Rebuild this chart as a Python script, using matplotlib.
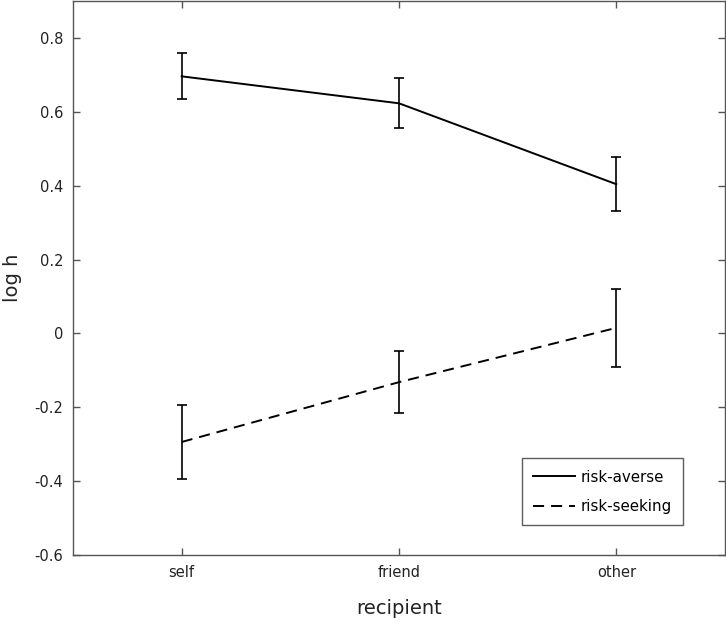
import matplotlib
matplotlib.use("Agg")
import matplotlib.pyplot as plt
from matplotlib.lines import Line2D

plt.rcParams['font.family'] = ['DejaVu Sans']
plt.rcParams['lines.scale_dashes'] = False

categories = ["self", "friend", "other"]
x_pos = [1, 2, 3]
averse_mean = [0.696, 0.623, 0.404]
averse_err = [0.062, 0.068, 0.073]
seeking_mean = [-0.294, -0.132, 0.015]
seeking_err = [0.099, 0.083, 0.105]

fig = plt.figure(figsize=(7.26, 6.24), dpi=100)
ax = fig.add_axes([73/726, 1 - 555/624, (725-73)/726, (555-1)/624])

lw = 1.4
ax.errorbar(x_pos, averse_mean, yerr=averse_err, color='black', lw=lw,
            capsize=3.3, capthick=1.2, elinewidth=1.2, label='risk-averse')
ax.errorbar(x_pos, seeking_mean, yerr=seeking_err, color='black', lw=lw,
            capsize=3.3, capthick=1.2, elinewidth=1.2, label='risk-seeking',
            linestyle=(0, (8, 5)))

ax.set_xlim(0.5, 3.5)
ax.set_ylim(-0.6, 0.9)
ax.set_xticks(x_pos)
ax.set_xticklabels(categories)
yt = [-0.6, -0.4, -0.2, 0, 0.2, 0.4, 0.6, 0.8]
ax.set_yticks(yt)
ax.set_yticklabels(['-0.6', '-0.4', '-0.2', '0', '0.2', '0.4', '0.6', '0.8'])

edge = '#555555'
for s in ax.spines.values():
    s.set_color(edge)
    s.set_linewidth(1.0)
ax.tick_params(direction='in', top=True, right=True, length=5, width=1,
               color=edge, labelsize=10.5, labelcolor='#222222', pad=7)

ax.set_xlabel('recipient', fontsize=14, labelpad=14, color='#222222')
ax.set_ylabel('log h', fontsize=14, labelpad=9, color='#222222')

h1 = Line2D([], [], color='black', lw=lw)
h2 = Line2D([], [], color='black', lw=lw, linestyle=(0, (8, 5)))
leg = ax.legend([h1, h2], ['risk-averse', 'risk-seeking'], loc='lower right',
                bbox_to_anchor=(683/726, 1 - 525/624), bbox_transform=fig.transFigure,
                fontsize=10.8, handlelength=2.8, frameon=True, fancybox=False,
                borderpad=0.75, labelspacing=0.95, handletextpad=0.35, borderaxespad=0)
leg.get_frame().set_edgecolor('#333333')
leg.get_frame().set_linewidth(1.0)

fig.savefig('out.png', dpi=100)
